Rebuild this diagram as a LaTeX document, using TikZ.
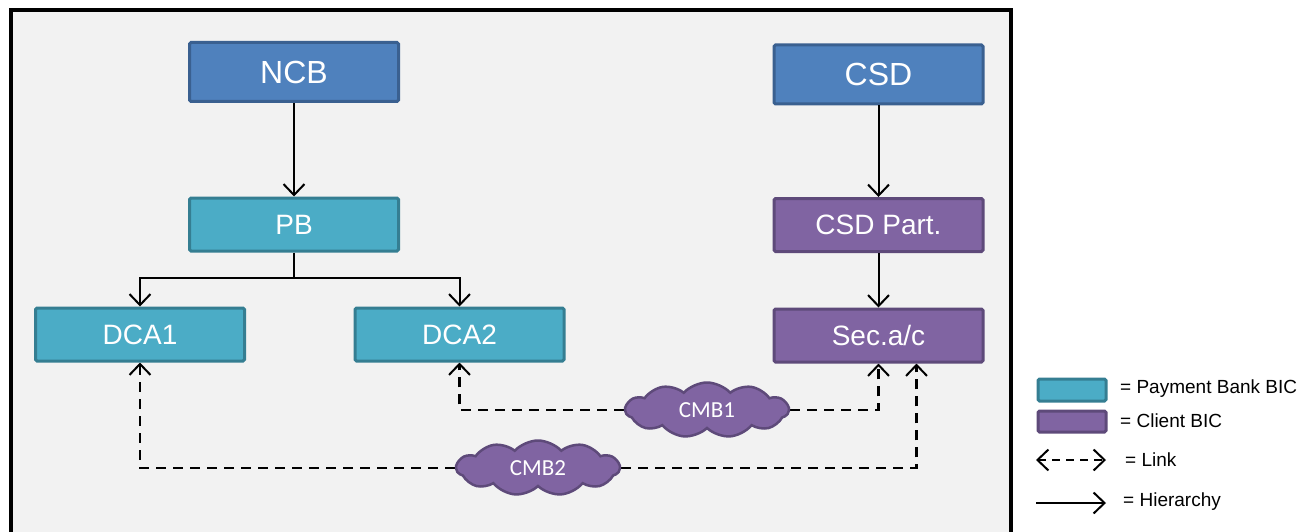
\documentclass[tikz,border=0pt]{standalone}
\usepackage{fontspec}
\setmainfont{Liberation Sans}
\newfontfamily\cloudfont{Carlito}
\usetikzlibrary{arrows.meta,shapes.symbols,backgrounds}
\definecolor{frameGray}{HTML}{F2F2F2}
\definecolor{headBlue}{HTML}{4F81BD}
\definecolor{headBlueD}{HTML}{3A6090}
\definecolor{bankTeal}{HTML}{4BACC6}
\definecolor{bankTealD}{HTML}{357E92}
\definecolor{clientPurple}{HTML}{8064A2}
\definecolor{clientPurpleD}{HTML}{5E4A7A}

\begin{document}
\begin{tikzpicture}[x=1pt,y=-1pt,
  box/.style={draw,line width=3pt,rounded corners=1.5pt,minimum width=209pt,text=white,inner sep=0pt},
  headbox/.style={box,fill=headBlue,draw=headBlueD,minimum height=59pt,font=\fontsize{32}{36}\selectfont},
  bankbox/.style={box,fill=bankTeal,draw=bankTealD,minimum height=53pt,font=\fontsize{28}{32}\selectfont},
  clientbox/.style={box,fill=clientPurple,draw=clientPurpleD,minimum height=53pt,font=\fontsize{28}{32}\selectfont},
  cmb/.style={cloud,cloud puffs=11,cloud puff arc=95,aspect=3.1,fill=clientPurple,draw=clientPurpleD,line width=2.5pt,
    minimum width=163pt,minimum height=55pt,inner sep=0pt,text=white,font=\cloudfont\fontsize{23}{26}\selectfont},
  barb/.tip={Straight Barb[length=11pt,width=21pt,line width=2pt]},
  hier/.style={line width=2pt,-barb},
  link/.style={line width=2.5pt,dash pattern=on 10pt off 7pt,-barb},
  legtext/.style={anchor=west,inner sep=0pt,font=\fontsize{19}{22}\selectfont}]
\useasboundingbox (0,0) rectangle (1309,532);
% hierarchy boxes
\node[headbox] (NCB) at (294,72) {NCB};
\node[bankbox] (PB) at (294,224.5) {PB};
\node[bankbox] (DCA1) at (140,334.5) {DCA1};
\node[bankbox] (DCA2) at (459.5,334.5) {DCA2};
\node[headbox] (CSD) at (878.5,74.5) {CSD};
\node[clientbox] (CSDPart) at (878.5,225) {CSD Part.};
\node[clientbox] (Sec) at (878.5,335.5) {Sec.a/c};
% cash management clouds
\node[cmb] (CMB1) at (707,410) {CMB1};
\node[cmb] (CMB2) at (538,468) {CMB2};
\coordinate (split) at (294,278);
\begin{scope}[on background layer]
\fill[frameGray] (11,10) rectangle (1011,540);
\draw[line width=4pt] (11,540) -- (11,10) -- (1011,10) -- (1011,540);
\draw[link] (CMB1) -| (DCA2.south);
\draw[link] (CMB1) -| (Sec.south);
\draw[link] (CMB2) -| (DCA1.south);
\draw[link] (CMB2) -| ([xshift=38pt]Sec.south);
\end{scope}
% hierarchy arrows
\draw[hier] (NCB) -- (PB);
\draw[line width=2pt] (PB.south) -- (split);
\draw[hier] (split) -| (DCA1.north);
\draw[hier] (split) -| (DCA2.north);
\draw[hier] (CSD) -- (CSDPart);
\draw[hier] (CSDPart) -- (Sec);
% legend
\node[box,fill=bankTeal,draw=bankTealD,minimum width=68pt,minimum height=22pt] (legBank) at (1072,390) {};
\node[box,fill=clientPurple,draw=clientPurpleD,minimum width=68pt,minimum height=21pt] (legClient) at (1072,421.5) {};
\node[legtext] (legBankTxt) at (1120,389) {= Payment Bank BIC};
\node[legtext] (legClientTxt) at (1120,421) {= Client BIC};
\coordinate (linkA) at (1036,460);
\coordinate (linkB) at (1106,460);
\coordinate (hierA) at (1036,503);
\coordinate (hierB) at (1106,503);
\draw[link,dash pattern=on 8pt off 6pt,barb-barb] (linkA) -- (linkB);
\draw[hier] (hierA) -- (hierB);
\node[legtext] (legLinkTxt) at (1125,460) {= Link};
\node[legtext] (legHierTxt) at (1123,502) {= Hierarchy};
\end{tikzpicture}
\end{document}
